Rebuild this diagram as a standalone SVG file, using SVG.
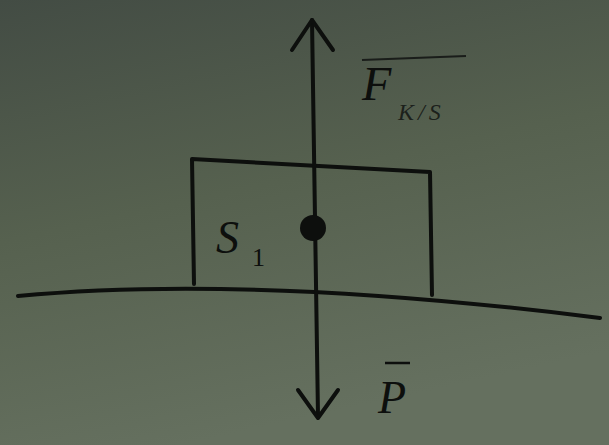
<svg xmlns="http://www.w3.org/2000/svg" width="609" height="445" viewBox="0 0 609 445">
<defs>
<linearGradient id="bg" x1="0" y1="0" x2="0.3" y2="1">
<stop offset="0" stop-color="#434c44"/>
<stop offset="0.5" stop-color="#56614f" stop-opacity="1"/>
<stop offset="1" stop-color="#65705f"/>
</linearGradient>
<style>
.ln{fill:none;stroke:#0d0f0d;stroke-width:4;stroke-linecap:round;stroke-linejoin:round}
.lb{font-family:"Liberation Serif",serif;font-style:italic;fill:#0d0f0d}
</style>
</defs>
<rect width="609" height="445" fill="url(#bg)"/>
<g id="ground"><path class="ln" d="M18,296 Q250,274 600,318" stroke-width="3"/></g>
<g id="block"><path class="ln" d="M194,284 L192,159 L430,172 L432,295" stroke-width="3.5"/></g>
<g id="connectors">
<path class="ln" d="M312,20 L318,416" stroke-width="3.5"/>
<path class="ln" d="M292,50 L312,20 L333,50" stroke-width="3.5"/>
<path class="ln" d="M298,390 L318,418 L338,390" stroke-width="3.5"/>
</g>
<g id="center"><circle cx="313" cy="228" r="13" fill="#0d0f0d"/></g>
<g id="labelS"><text class="lb" x="216" y="253" font-size="46">S</text><text x="252" y="266" font-family="Liberation Serif,serif" font-size="26" fill="#0d0f0d">1</text></g>
<g id="labelF"><line x1="362" y1="60" x2="466" y2="56" stroke="#1a1d1a" stroke-width="2"/><text class="lb" x="362" y="100" font-size="48">F</text><text class="lb" x="398" y="120" font-size="24" fill-opacity="0.8" letter-spacing="4">K/S</text></g>
<g id="labelP"><line x1="385" y1="363" x2="410" y2="363" stroke="#0d0f0d" stroke-width="2.5"/><text class="lb" x="378" y="413" font-size="46">P</text></g>
</svg>
